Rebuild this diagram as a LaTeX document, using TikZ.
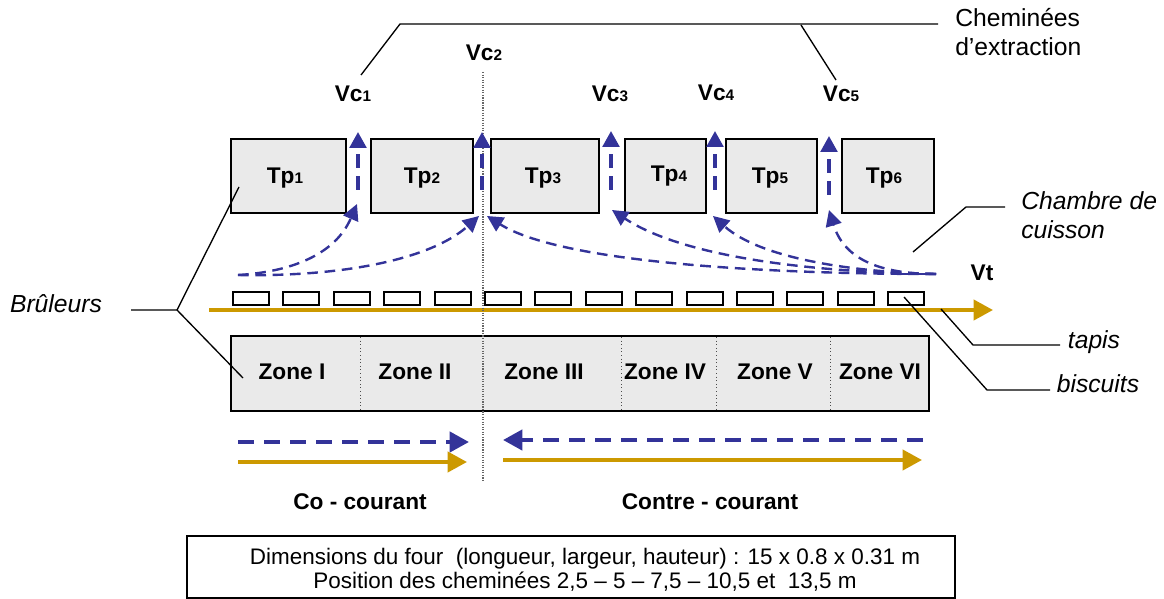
\documentclass[tikz,border=0pt]{standalone}
\usepackage{fontspec}
\setmainfont{Liberation Sans}
\usetikzlibrary{arrows.meta}
\definecolor{bluef}{HTML}{333399}
\definecolor{goldf}{HTML}{CC9900}
\definecolor{boxf}{HTML}{EAEAEA}
\newcommand{\lowx}[2]{\textbf{#1{\fontsize{11.5}{13}\selectfont #2}}}
\tikzset{
 x=0.75pt,y=-0.75pt,
 txt/.style={font=\fontsize{18.5}{21.8}\selectfont,inner sep=0pt,align=left},
 dimtxt/.style={font=\fontsize{16.85}{18}\selectfont,inner sep=0pt,align=center},
 lab/.style={font=\fontsize{17}{20}\selectfont\bfseries,inner sep=0pt},
 ital/.style={font=\fontsize{18.5}{21.8}\selectfont\itshape,inner sep=0pt,align=left},
 fbox/.style={draw=black,line width=1.9pt,fill=boxf,inner sep=0pt,outer sep=0pt,minimum width=0pt},
 bisc/.style={draw=black,line width=1.6pt,fill=white,inner sep=0pt,outer sep=0pt},
 callout/.style={draw=black,line width=1pt},
 zsep/.style={draw=black!70,line width=0.7pt,dotted},
 bigtip/.style={-{Triangle[length=14.5pt,width=15pt]}},
 upflow/.style={draw=bluef,line width=2.6pt,dash pattern=on 10.5pt off 6pt,-{Triangle[length=12pt,width=12.5pt]}},
 curveflow/.style={draw=bluef,line width=1.8pt,dash pattern=on 8pt off 5pt,-{Triangle[length=12pt,width=12pt]}},
 hblue/.style={draw=bluef,line width=3.2pt,dash pattern=on 12pt off 7.5pt,-{Triangle[length=14.5pt,width=15pt]}},
 goldline/.style={draw=goldf,line width=3pt,bigtip},
}
\newcommand{\bxx}[5]{\node[fbox,anchor=north west,minimum width=#4*0.75pt,minimum height=#5*0.75pt] (#1) at (#2,#3) {};}
\begin{document}
\begin{tikzpicture}
\useasboundingbox (0,0) rectangle (1164,599);

% named points
\foreach \n/\x/\y in {c1/361/75,c2/400/24,c3/938/24,c4/801/25,c5/836/80,
 ch1/913/252,ch2/966/207,ch3/1005/207,
 br0/131/310,br1/177/310,br2/239/187,br3/243/378,
 ta1/941/309,ta2/973/345,ta3/1060/345,
 bi1/904/297,bi2/987/390,bi3/1050/390,
 mid1/483/72,mid2/483/482,
 tap1/209/310,tap2/993/310,
 hb1/238/442,hb2/469/442,hb3/923/440,hb4/503/440,
 hg1/238/462,hg2/467/462,hg3/503/460,hg4/922/460,
 up1a/358/190,up1b/358/132,up2a/482/190,up2b/482/132,up3a/611/190,up3b/611/131,
 up4a/715/190,up4b/715/131,up5a/829/195,up5b/829/136,
 fl/238/275,fr/936/274,
 t1/357/204,t2/479/216,t3/487/216,t4/612/210,t5/713/216,t6/829/210}
 {\coordinate (\n) at (\x,\y);}

% Temperature boxes
\bxx{tp1}{231}{139}{115}{74}
\bxx{tp2}{371}{139}{102}{74}
\bxx{tp3}{491}{139}{108}{74}
\bxx{tp4}{625}{139}{81}{74}
\bxx{tp5}{726}{139}{91}{74}
\bxx{tp6}{842}{139}{92}{74}
\node[lab] (ltp1) at (285,178) {\lowx{Tp}{1}};
\node[lab] (ltp2) at (422,178) {\lowx{Tp}{2}};
\node[lab] (ltp3) at (543,178) {\lowx{Tp}{3}};
\node[lab] (ltp4) at (669,176) {\lowx{Tp}{4}};
\node[lab] (ltp5) at (770,178) {\lowx{Tp}{5}};
\node[lab] (ltp6) at (884,178) {\lowx{Tp}{6}};

% Zones
\bxx{zones}{231}{336}{698}{75}
\foreach \x in {360,621,716,830} \draw[zsep] (\x,337) -- (\x,410);
\node[lab] (z1) at (292,372) {Zone I};
\node[lab] (z2) at (415,372) {Zone II};
\node[lab] (z3) at (544,372) {Zone III};
\node[lab] (z4) at (665,372) {Zone IV};
\node[lab] (z5) at (775,372) {Zone V};
\node[lab] (z6) at (880,372) {Zone VI};

% Biscuits
\foreach \i in {0,...,13}
  \node[bisc,anchor=north west,minimum width=27pt,minimum height=9.75pt] (b\i) at ({233+50.4*\i},292) {};

% Belt
\draw[goldline] (tap1) -- (tap2);

% centre line
\draw[draw=black!60,line width=0.9pt,densely dotted] (mid1) -- (mid2);

% Vertical flows
\draw[upflow] (up1a) -- (up1b);
\draw[upflow] (up2a) -- (up2b);
\draw[upflow] (up3a) -- (up3b);
\draw[upflow] (up4a) -- (up4b);
\draw[upflow] (up5a) -- (up5b);

% Curved flows
\draw[curveflow] (fl) .. controls (290,272) and (335,255) .. (t1);
\draw[curveflow] (fl) .. controls (340,277) and (430,260) .. (t2);
\draw[curveflow] (fr) .. controls (760,274) and (560,262) .. (t3);
\draw[curveflow] (fr) .. controls (800,272) and (680,255) .. (t4);
\draw[curveflow] (fr) .. controls (850,272) and (760,258) .. (t5);
\draw[curveflow] (fr) .. controls (885,274) and (845,262) .. (t6);
\draw[draw=bluef,line width=2.2pt] (900,274) -- (fr);

% Direction arrows
\draw[hblue] (hb1) -- (hb2);
\draw[goldline] (hg1) -- (hg2);
\draw[hblue] (hb3) -- (hb4);
\draw[goldline] (hg3) -- (hg4);

% Callouts
\draw[callout] (c1) -- (c2) -- (c3);
\draw[callout] (c4) -- (c5);
\draw[callout] (ch1) -- (ch2) -- (ch3);
\draw[callout] (br0) -- (br1) -- (br2);
\draw[callout] (br1) -- (br3);
\draw[callout] (ta1) -- (ta2) -- (ta3);
\draw[callout] (bi1) -- (bi2) -- (bi3);

% Labels
\node[lab] (vc1) at (353,94) {\lowx{Vc}{1}};
\node[lab] (vc2) at (484,53) {\lowx{Vc}{2}};
\node[lab] (vc3) at (610,94) {\lowx{Vc}{3}};
\node[lab] (vc4) at (716,93) {\lowx{Vc}{4}};
\node[lab] (vc5) at (841,94) {\lowx{Vc}{5}};
\node[lab] (vt) at (982,273) {Vt};
\node[txt,anchor=north west] (chem) at (955,8) {Cheminées\\d’extraction};
\node[ital,anchor=north west] (cham) at (1021,191) {Chambre de\\cuisson};
\node[ital] (brul) at (56,304) {Brûleurs};
\node[ital] (tapis) at (1094,342) {tapis};
\node[ital] (bisct) at (1098,384) {biscuits};
\node[lab] (co) at (360,502) {Co - courant};
\node[lab] (contre) at (710,502) {Contre - courant};

% Dimensions
\node[draw=black,line width=1pt,fill=white,anchor=north west,minimum width=576pt,minimum height=46.5pt,inner sep=0pt,outer sep=0pt] (dimbox) at (187,536) {};
\node[dimtxt] (dims) at ([xshift=10.5pt,yshift=-2pt]dimbox.center) {Dimensions du four\ \ (longueur, largeur, hauteur) : 15 x 0.8 x 0.31 m\\Position des cheminées 2,5 – 5 – 7,5 – 10,5 et\ \ 13,5 m};
\end{tikzpicture}
\end{document}
